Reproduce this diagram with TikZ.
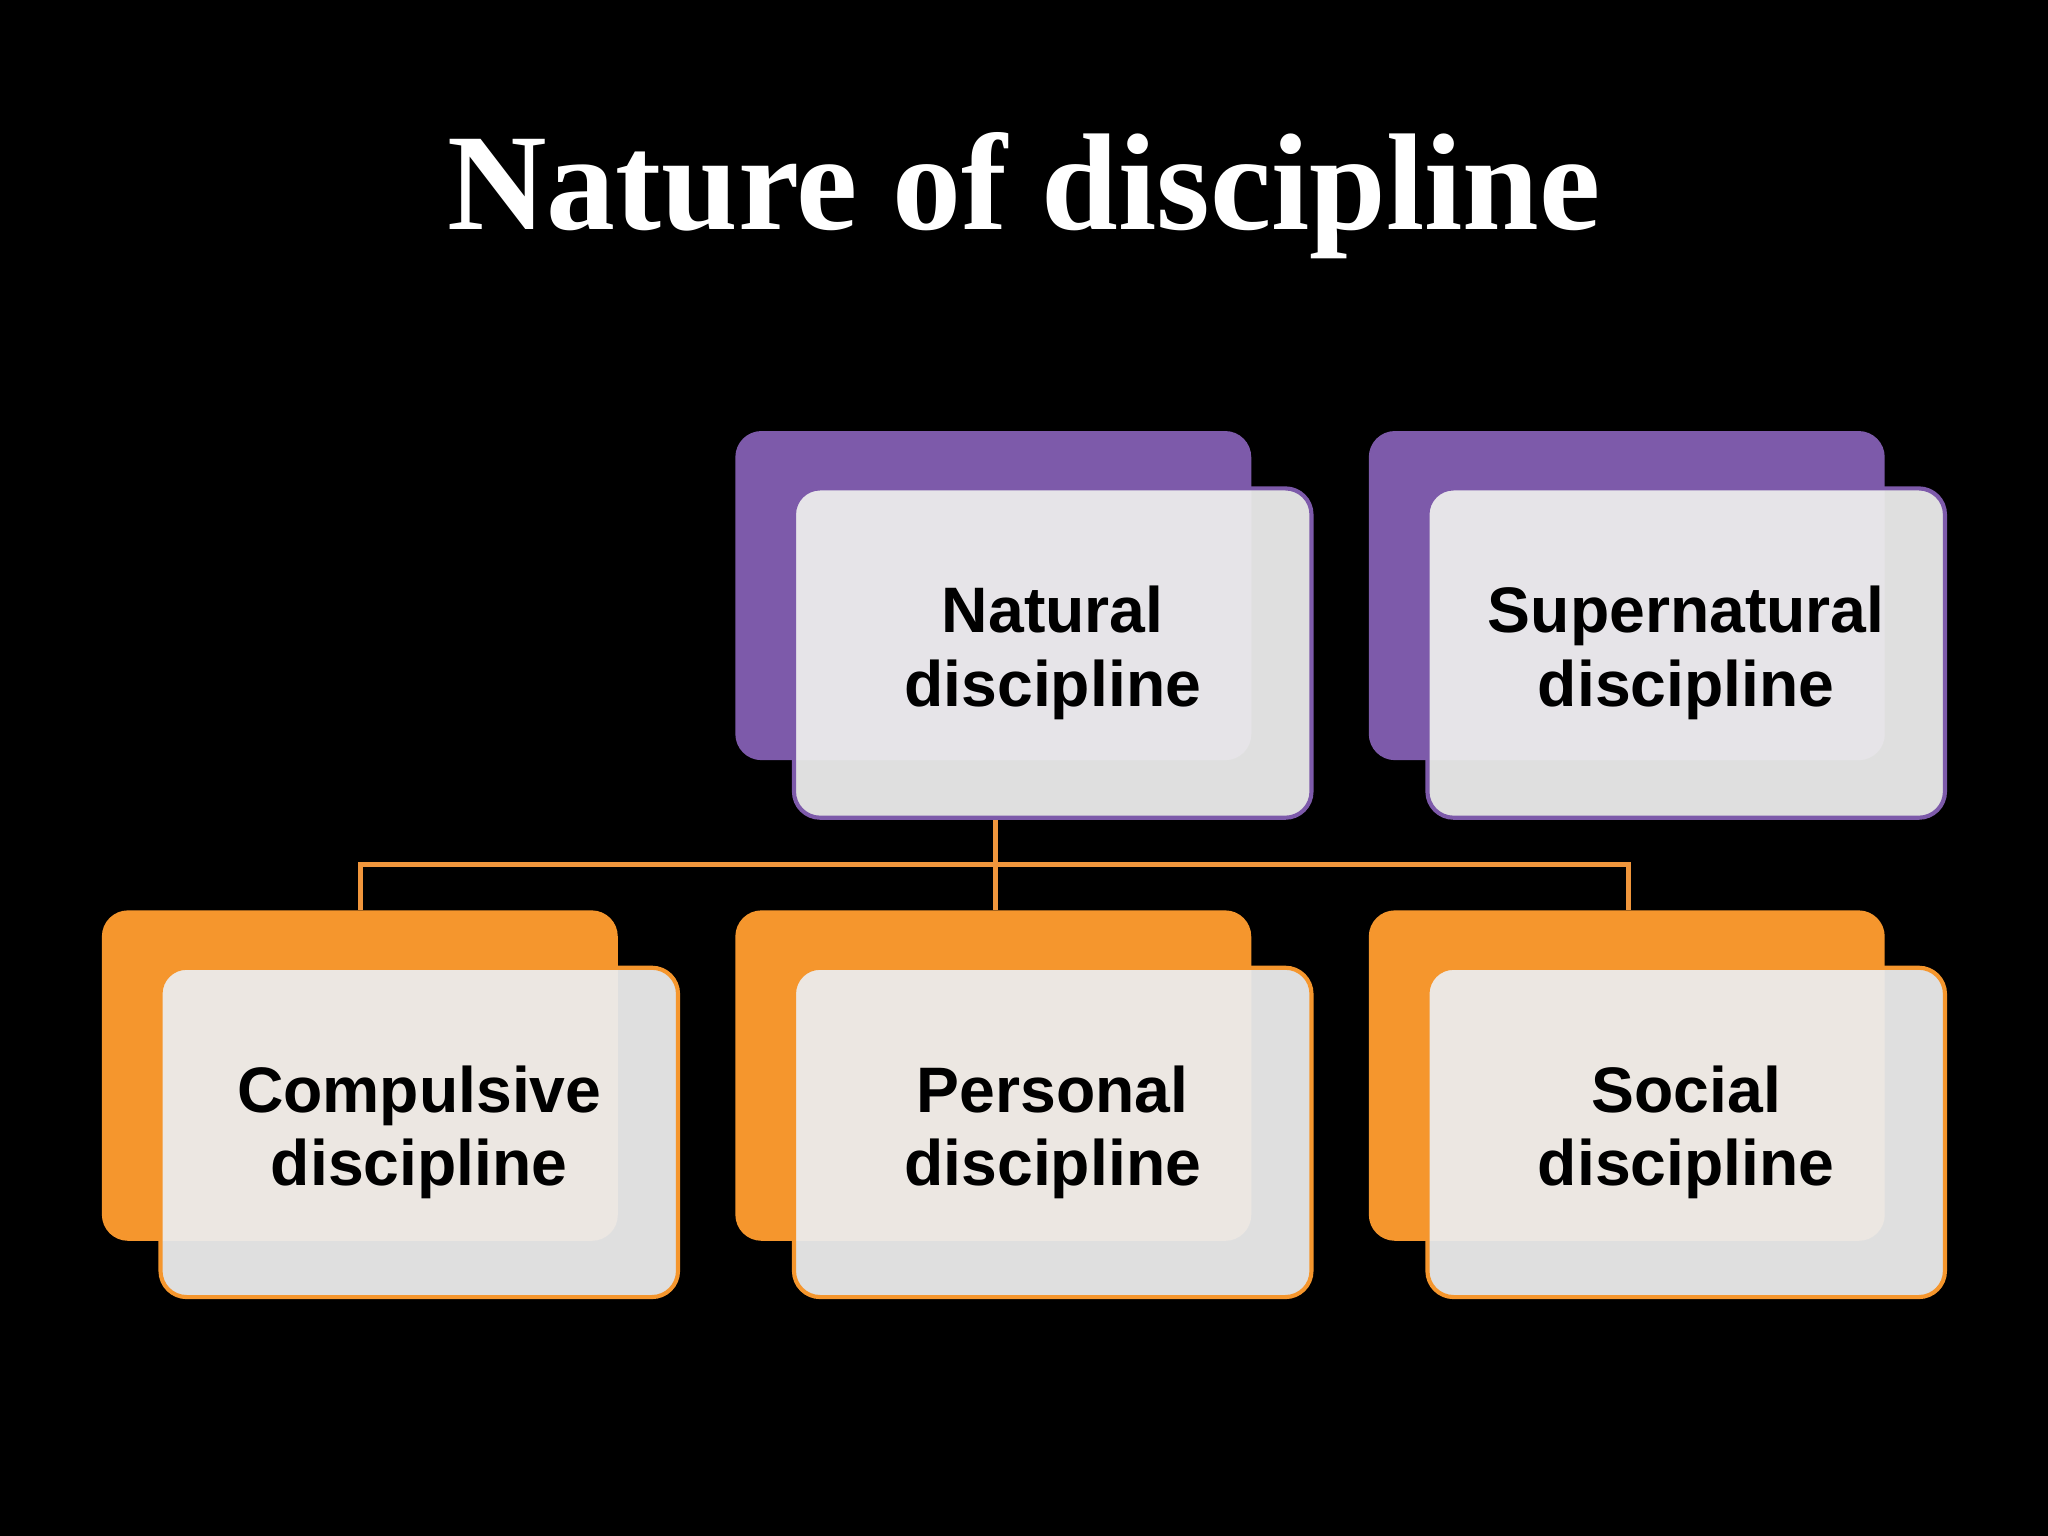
\documentclass[tikz,border=0pt]{standalone}
\usepackage{fontspec}
\setmainfont{Liberation Sans}
\newfontfamily\titlefont{Liberation Serif}
\begin{document}
\begin{tikzpicture}[x=0.01cm,y=-0.01cm,
  front/.style={rounded corners=0.2cm, fill=gray!15, fill opacity=0.95, text opacity=1, line width=0.9pt, font=\fontsize{14}{16}\selectfont\bfseries, align=center, text width=3.6cm, minimum width=3.96cm, minimum height=2.52cm},
  conn/.style={draw={rgb,255:red,240;green,150;blue,60}, line width=1.2pt}]
\definecolor{pbox}{RGB}{125,90,170}
\definecolor{obox}{RGB}{245,150,45}
\fill[black] (0,0) rectangle (1568,1176);
\useasboundingbox (0,0) rectangle (1568,1176);
\node[text=white, font=\titlefont\bfseries\fontsize{30}{34}\selectfont] (title) at (784,150) {Nature of discipline};
\fill[pbox, rounded corners=0.2cm] (563,330) rectangle (958,582);
\fill[pbox, rounded corners=0.2cm] (1048,330) rectangle (1443,582);
\fill[obox, rounded corners=0.2cm] (78,697) rectangle (473,950);
\fill[obox, rounded corners=0.2cm] (563,697) rectangle (958,950);
\fill[obox, rounded corners=0.2cm] (1048,697) rectangle (1443,950);
\coordinate (b1) at (276,697);
\coordinate (b2) at (762,697);
\coordinate (b3) at (1247,697);
\coordinate (n0) at (762,626);
\coordinate (j) at (762,662);
\draw[conn] (n0) -- (j) -| (b1);
\draw[conn] (j) -- (b2);
\draw[conn] (j) -| (b3);
\node[front, draw=pbox] (nat) at (806,500) {Natural\\discipline};
\node[front, draw=pbox] (sup) at (1291,500) {Supernatural\\discipline};
\node[front, draw=obox] (com) at (321,867) {Compulsive\\discipline};
\node[front, draw=obox] (per) at (806,867) {Personal\\discipline};
\node[front, draw=obox] (soc) at (1291,867) {Social\\discipline};
\end{tikzpicture}
\end{document}
